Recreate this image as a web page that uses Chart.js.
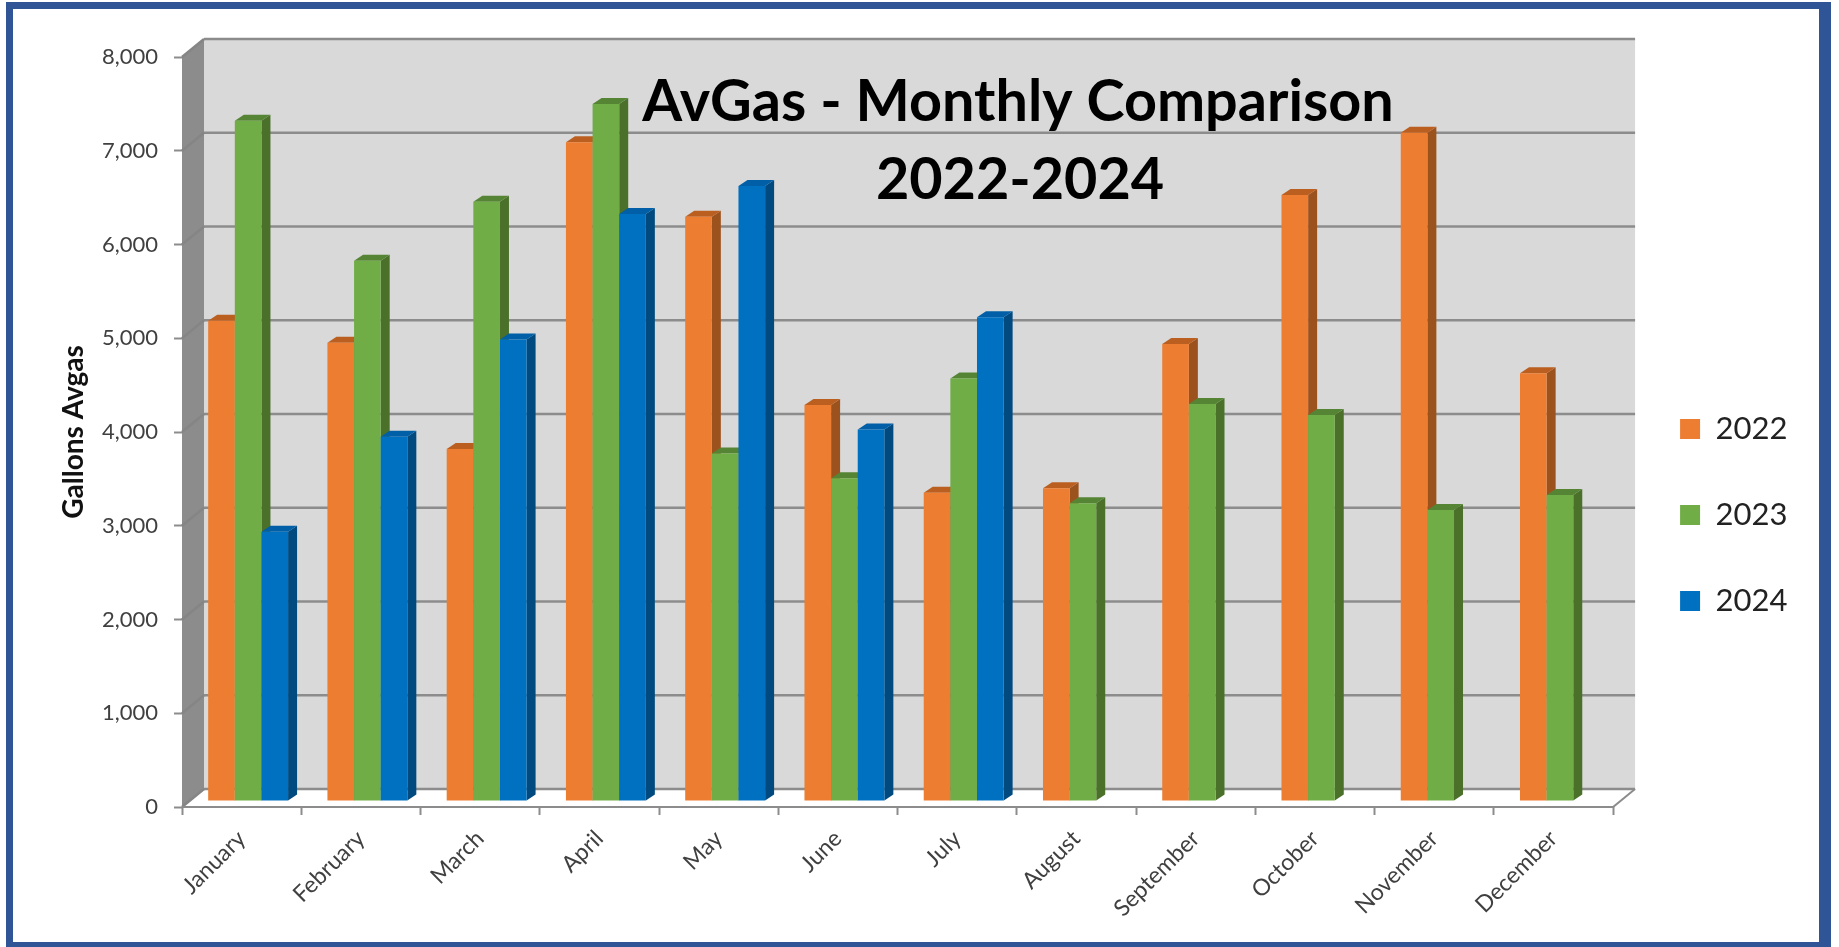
<!DOCTYPE html>
<html lang="en">
<head>
    <meta charset="UTF-8">
    <title>AvGas - Monthly Comparison</title>
    <script src="https://cdnjs.cloudflare.com/ajax/libs/Chart.js/4.4.1/chart.umd.min.js"></script>
    <style>
        html, body { margin: 0; background: #fff; overflow: hidden; }
        #frame {
            position: absolute;
            left: 6px; top: 2px; width: 1806px; height: 933px;
            border: solid #2f5597;
            border-width: 7px 12px 5px 7px;
        }
        canvas { position: absolute; left: 0; top: 0; filter: blur(0.45px); }
    </style>
</head>
<body>
    <div id="frame"></div>
    <canvas id="avgas" width="1839" height="947"></canvas>

    <script>
        const months = ['January', 'February', 'March', 'April', 'May', 'June', 'July', 'August', 'September', 'October', 'November', 'December'];
        const gallons2022 = [5123, 4889, 3755, 7026, 6233, 4224, 3289, 3335, 4875, 6464, 7129, 4562];
        const gallons2023 = [7257, 5763, 6393, 7435, 3708, 3442, 4508, 3175, 4235, 4117, 3104, 3264];
        const gallons2024 = [2873, 3886, 4924, 6261, 6560, 3964, 5159, null, null, null, null, null];
        const titleLines = ['AvGas - Monthly Comparison', '2022-2024'];

        // side and top shades for the fake 3D bars, same order as the datasets
        const sideColors = ['#9c521d', '#4a7029', '#004a80'];
        const topColors = ['#bb5f20', '#558534', '#005fa6'];

        const wallDepth = { x: 22, y: 18 };
        const barDepth = { x: 9, y: 6 };
        const barShift = { x: 6.5, y: -6 };
        const lineGrey = '#8c8c8c';

        function poly(ctx, color, pts) {
            ctx.fillStyle = color;
            ctx.beginPath();
            ctx.moveTo(pts[0][0], pts[0][1]);
            for (let i = 1; i < pts.length; i++) ctx.lineTo(pts[i][0], pts[i][1]);
            ctx.closePath();
            ctx.fill();
        }

        function drawRoom(chart) {
            const ctx = chart.ctx;
            const y = chart.scales.y;
            const a = chart.chartArea;
            const dx = wallDepth.x, dy = wallDepth.y;

            poly(ctx, '#d9d9d9', [[a.left + dx, a.top - dy], [a.right + dx, a.top - dy], [a.right + dx, a.bottom - dy], [a.left + dx, a.bottom - dy]]);
            poly(ctx, '#ffffff', [[a.left, a.bottom], [a.left + dx, a.bottom - dy], [a.right + dx, a.bottom - dy], [a.right, a.bottom]]);
            poly(ctx, lineGrey, [[a.left, a.top], [a.left + dx, a.top - dy], [a.left + dx, a.bottom - dy], [a.left, a.bottom]]);

            ctx.lineWidth = 2.5;
            y.ticks.forEach(t => {
                const py = y.getPixelForValue(t.value);
                ctx.strokeStyle = lineGrey;
                ctx.beginPath();
                ctx.moveTo(a.left + dx, py - dy);
                ctx.lineTo(a.right + dx, py - dy);
                ctx.stroke();
                // faint continuation down the side wall
                ctx.strokeStyle = '#858585';
                ctx.beginPath();
                ctx.moveTo(a.left, py);
                ctx.lineTo(a.left + dx, py - dy);
                ctx.stroke();
            });
            // floor edges
            ctx.strokeStyle = lineGrey;
            ctx.lineWidth = 2;
            ctx.beginPath();
            ctx.moveTo(a.left, a.bottom);
            ctx.lineTo(a.right, a.bottom);
            ctx.lineTo(a.right + dx, a.bottom - dy);
            ctx.stroke();
        }

        function drawBarSides(ctx, meta, index) {
            meta.data.forEach((bar, i) => {
                if (meta.controller.getParsed(i).y == null) return;
                const p = bar.getProps(['x', 'y', 'base', 'width'], true);
                if (isNaN(p.y)) return;
                const r = p.x + p.width / 2;
                const l = p.x - p.width / 2;
                const dx = barDepth.x, dy = barDepth.y;
                poly(ctx, sideColors[index], [[r, p.y], [r + dx, p.y - dy], [r + dx, p.base - dy], [r, p.base]]);
                poly(ctx, topColors[index], [[l, p.y], [l + dx, p.y - dy], [r + dx, p.y - dy], [r, p.y]]);
            });
        }

        const room3d = {
            id: 'room3d',
            afterLayout(chart) {
                // legend sits further right and lower than its box would put it
                const lg = chart.legend;
                lg.left += 12; lg.right += 12;
                lg.top += 13; lg.bottom += 13;
            },
            beforeDatasetsDraw(chart) {
                const ctx = chart.ctx;
                drawRoom(chart);
                // left to right so each bar hides the side of its neighbour
                ctx.save();
                ctx.translate(barShift.x, barShift.y);
                chart.data.datasets.forEach((ds, i) => {
                    const meta = chart.getDatasetMeta(i);
                    drawBarSides(ctx, meta, i);
                    meta.controller.draw();
                });
                ctx.restore();
                return false;
            },
            afterDraw(chart) {
                const ctx = chart.ctx;
                ctx.save();
                ctx.fillStyle = '#000';
                ctx.textAlign = 'center';
                ctx.font = 'bold 57.5px Lato';
                ctx.fillText(titleLines[0], 1018, 121);
                ctx.fillText(titleLines[1], 1020, 199);
                ctx.restore();
            }
        };

        new Chart(document.getElementById('avgas'), {
            type: 'bar',
            data: {
                labels: months,
                datasets: [
                    { label: '2022', data: gallons2022, backgroundColor: '#ed7d31', categoryPercentage: 0.67, barPercentage: 1 },
                    { label: '2023', data: gallons2023, backgroundColor: '#70ad47', categoryPercentage: 0.67, barPercentage: 1 },
                    { label: '2024', data: gallons2024, backgroundColor: '#0070c0', categoryPercentage: 0.67, barPercentage: 1 }
                ]
            },
            options: {
                responsive: false,
                animation: false,
                layout: { padding: { left: 57, top: 57, right: 53.5, bottom: 0 } },
                plugins: {
                    tooltip: { enabled: false },
                    legend: {
                        position: 'right',
                        labels: {
                            boxWidth: 20,
                            boxHeight: 20,
                            padding: 55,
                            color: '#222',
                            font: { family: 'Lato', size: 31 }
                        }
                    }
                },
                scales: {
                    x: {
                        afterFit(scale) { scale.height = 140; },
                        border: { display: false },
                        grid: { drawOnChartArea: false, tickLength: 8, tickColor: lineGrey, tickWidth: 2 },
                        ticks: {
                            minRotation: 45,
                            maxRotation: 45,
                            padding: 10,
                            color: '#404040',
                            font: { family: 'Lato', size: 23 }
                        }
                    },
                    y: {
                        min: 0,
                        max: 8000,
                        afterFit(scale) { scale.width = 125; },
                        border: { display: false },
                        grid: { drawOnChartArea: false, tickLength: 8, tickColor: lineGrey, tickWidth: 2 },
                        title: {
                            display: true,
                            text: 'Gallons Avgas',
                            color: '#111',
                            padding: 0,
                            font: { family: 'Lato', size: 28, weight: 'bold' }
                        },
                        ticks: {
                            stepSize: 1000,
                            padding: 16,
                            color: '#404040',
                            font: { family: 'Lato', size: 22 },
                            callback: v => v.toLocaleString('en-US')
                        }
                    }
                }
            },
            plugins: [room3d]
        });
    </script>
</body>
</html>
